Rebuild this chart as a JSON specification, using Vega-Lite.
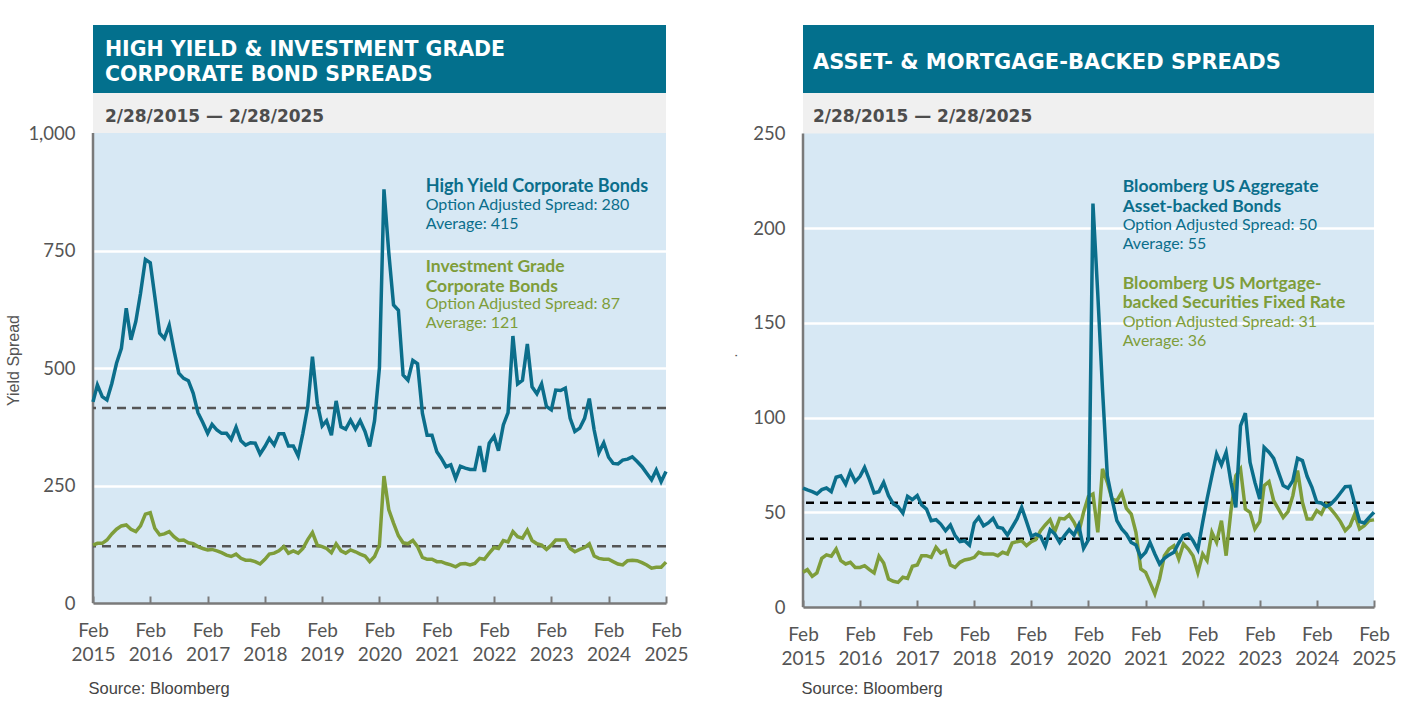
{
  "$schema": "https://vega.github.io/schema/vega-lite/v6.json",
  "padding": {"left": 5, "top": 25, "right": 5, "bottom": 5},
  "bounds": "flush",
  "spacing": 137,
  "config": {
    "view": {"fill": "#D7E8F4", "stroke": null},
    "axis": {"labelFont": "Lato", "labelFontSize": 18.5, "labelColor": "#555555", "titleFont": "Liberation Sans", "titleFontWeight": "normal", "titleColor": "#555555"}
  },
  "datasets": {
    "corp": [
      {"date":"2015-02","hy":428,"ig":123},{"date":"2015-03","hy":464,"ig":127},{"date":"2015-04","hy":439,"ig":127},{"date":"2015-05","hy":432,"ig":134},{"date":"2015-06","hy":467,"ig":147},{"date":"2015-07","hy":510,"ig":157},{"date":"2015-08","hy":542,"ig":164},{"date":"2015-09","hy":627,"ig":166},{"date":"2015-10","hy":560,"ig":157},{"date":"2015-11","hy":599,"ig":152},{"date":"2015-12","hy":659,"ig":164},
      {"date":"2016-01","hy":731,"ig":189},{"date":"2016-02","hy":724,"ig":192},{"date":"2016-03","hy":652,"ig":159},{"date":"2016-04","hy":574,"ig":145},{"date":"2016-05","hy":563,"ig":147},{"date":"2016-06","hy":591,"ig":152},{"date":"2016-07","hy":538,"ig":141},{"date":"2016-08","hy":489,"ig":133},{"date":"2016-09","hy":478,"ig":134},{"date":"2016-10","hy":473,"ig":128},{"date":"2016-11","hy":446,"ig":126},{"date":"2016-12","hy":405,"ig":120},
      {"date":"2017-01","hy":384,"ig":116},{"date":"2017-02","hy":361,"ig":113},{"date":"2017-03","hy":380,"ig":114},{"date":"2017-04","hy":368,"ig":111},{"date":"2017-05","hy":361,"ig":107},{"date":"2017-06","hy":361,"ig":102},{"date":"2017-07","hy":348,"ig":99},{"date":"2017-08","hy":374,"ig":104},{"date":"2017-09","hy":345,"ig":95},{"date":"2017-10","hy":336,"ig":91},{"date":"2017-11","hy":341,"ig":91},{"date":"2017-12","hy":340,"ig":88},
      {"date":"2018-01","hy":317,"ig":83},{"date":"2018-02","hy":333,"ig":93},{"date":"2018-03","hy":350,"ig":104},{"date":"2018-04","hy":336,"ig":106},{"date":"2018-05","hy":360,"ig":111},{"date":"2018-06","hy":360,"ig":120},{"date":"2018-07","hy":334,"ig":106},{"date":"2018-08","hy":334,"ig":111},{"date":"2018-09","hy":313,"ig":106},{"date":"2018-10","hy":361,"ig":116},{"date":"2018-11","hy":418,"ig":135},{"date":"2018-12","hy":524,"ig":150},
      {"date":"2019-01","hy":425,"ig":123},{"date":"2019-02","hy":377,"ig":120},{"date":"2019-03","hy":388,"ig":116},{"date":"2019-04","hy":357,"ig":107},{"date":"2019-05","hy":430,"ig":126},{"date":"2019-06","hy":375,"ig":111},{"date":"2019-07","hy":370,"ig":106},{"date":"2019-08","hy":389,"ig":113},{"date":"2019-09","hy":370,"ig":109},{"date":"2019-10","hy":388,"ig":104},{"date":"2019-11","hy":365,"ig":100},{"date":"2019-12","hy":333,"ig":88},
      {"date":"2020-01","hy":388,"ig":99},{"date":"2020-02","hy":500,"ig":123},{"date":"2020-03","hy":880,"ig":270},{"date":"2020-04","hy":744,"ig":198},{"date":"2020-05","hy":634,"ig":170},{"date":"2020-06","hy":623,"ig":143},{"date":"2020-07","hy":485,"ig":128},{"date":"2020-08","hy":474,"ig":126},{"date":"2020-09","hy":516,"ig":133},{"date":"2020-10","hy":509,"ig":120},{"date":"2020-11","hy":404,"ig":97},{"date":"2020-12","hy":357,"ig":93},
      {"date":"2021-01","hy":357,"ig":93},{"date":"2021-02","hy":322,"ig":88},{"date":"2021-03","hy":308,"ig":88},{"date":"2021-04","hy":290,"ig":84},{"date":"2021-05","hy":294,"ig":81},{"date":"2021-06","hy":265,"ig":77},{"date":"2021-07","hy":291,"ig":83},{"date":"2021-08","hy":287,"ig":84},{"date":"2021-09","hy":284,"ig":81},{"date":"2021-10","hy":284,"ig":84},{"date":"2021-11","hy":334,"ig":95},{"date":"2021-12","hy":279,"ig":93},
      {"date":"2022-01","hy":340,"ig":106},{"date":"2022-02","hy":355,"ig":118},{"date":"2022-03","hy":324,"ig":116},{"date":"2022-04","hy":379,"ig":133},{"date":"2022-05","hy":405,"ig":130},{"date":"2022-06","hy":568,"ig":152},{"date":"2022-07","hy":466,"ig":141},{"date":"2022-08","hy":474,"ig":138},{"date":"2022-09","hy":551,"ig":155},{"date":"2022-10","hy":460,"ig":133},{"date":"2022-11","hy":445,"ig":126},{"date":"2022-12","hy":466,"ig":123},
      {"date":"2023-01","hy":418,"ig":114},{"date":"2023-02","hy":411,"ig":123},{"date":"2023-03","hy":453,"ig":134},{"date":"2023-04","hy":452,"ig":134},{"date":"2023-05","hy":457,"ig":134},{"date":"2023-06","hy":393,"ig":116},{"date":"2023-07","hy":365,"ig":109},{"date":"2023-08","hy":372,"ig":114},{"date":"2023-09","hy":393,"ig":118},{"date":"2023-10","hy":435,"ig":126},{"date":"2023-11","hy":368,"ig":100},{"date":"2023-12","hy":320,"ig":95},
      {"date":"2024-01","hy":341,"ig":93},{"date":"2024-02","hy":310,"ig":93},{"date":"2024-03","hy":297,"ig":88},{"date":"2024-04","hy":296,"ig":83},{"date":"2024-05","hy":304,"ig":81},{"date":"2024-06","hy":306,"ig":90},{"date":"2024-07","hy":311,"ig":91},{"date":"2024-08","hy":301,"ig":90},{"date":"2024-09","hy":290,"ig":86},{"date":"2024-10","hy":276,"ig":81},{"date":"2024-11","hy":262,"ig":74},{"date":"2024-12","hy":283,"ig":76},
      {"date":"2025-01","hy":258,"ig":76},{"date":"2025-02","hy":280,"ig":87}
    ],
    "sec": [
      {"date":"2015-02","abs":62.8,"mbs":18.3},{"date":"2015-03","abs":61.8,"mbs":19.7},{"date":"2015-04","abs":60.9,"mbs":16.2},{"date":"2015-05","abs":59.7,"mbs":18.0},{"date":"2015-06","abs":62.0,"mbs":25.7},{"date":"2015-07","abs":62.8,"mbs":27.5},{"date":"2015-08","abs":60.9,"mbs":26.8},{"date":"2015-09","abs":68.5,"mbs":30.6},{"date":"2015-10","abs":69.3,"mbs":24.5},{"date":"2015-11","abs":64.9,"mbs":22.7},{"date":"2015-12","abs":71.5,"mbs":23.6},
      {"date":"2016-01","abs":66.2,"mbs":20.9},{"date":"2016-02","abs":69.0,"mbs":20.9},{"date":"2016-03","abs":73.7,"mbs":21.8},{"date":"2016-04","abs":67.2,"mbs":19.7},{"date":"2016-05","abs":60.2,"mbs":18.0},{"date":"2016-06","abs":60.9,"mbs":26.8},{"date":"2016-07","abs":65.8,"mbs":23.2},{"date":"2016-08","abs":58.8,"mbs":14.8},{"date":"2016-09","abs":54.4,"mbs":13.6},{"date":"2016-10","abs":53.0,"mbs":13.0},{"date":"2016-11","abs":49.6,"mbs":15.7},{"date":"2016-12","abs":58.4,"mbs":15.1},
      {"date":"2017-01","abs":56.7,"mbs":21.5},{"date":"2017-02","abs":58.8,"mbs":22.2},{"date":"2017-03","abs":53.9,"mbs":27.1},{"date":"2017-04","abs":51.7,"mbs":27.1},{"date":"2017-05","abs":45.6,"mbs":26.2},{"date":"2017-06","abs":46.1,"mbs":31.5},{"date":"2017-07","abs":43.8,"mbs":28.5},{"date":"2017-08","abs":40.3,"mbs":29.7},{"date":"2017-09","abs":43.3,"mbs":22.2},{"date":"2017-10","abs":37.7,"mbs":20.9},{"date":"2017-11","abs":34.5,"mbs":23.6},{"date":"2017-12","abs":35.0,"mbs":24.8},
      {"date":"2018-01","abs":32.7,"mbs":25.3},{"date":"2018-02","abs":44.4,"mbs":26.2},{"date":"2018-03","abs":47.3,"mbs":28.9},{"date":"2018-04","abs":42.9,"mbs":28.0},{"date":"2018-05","abs":44.4,"mbs":28.0},{"date":"2018-06","abs":46.8,"mbs":28.0},{"date":"2018-07","abs":42.1,"mbs":27.1},{"date":"2018-08","abs":41.5,"mbs":28.9},{"date":"2018-09","abs":38.0,"mbs":28.0},{"date":"2018-10","abs":42.1,"mbs":33.8},{"date":"2018-11","abs":46.5,"mbs":34.5},{"date":"2018-12","abs":52.6,"mbs":35.0},
      {"date":"2019-01","abs":45.1,"mbs":32.4},{"date":"2019-02","abs":37.3,"mbs":34.5},{"date":"2019-03","abs":38.5,"mbs":35.6},{"date":"2019-04","abs":37.3,"mbs":40.3},{"date":"2019-05","abs":32.0,"mbs":43.3},{"date":"2019-06","abs":40.8,"mbs":46.1},{"date":"2019-07","abs":38.5,"mbs":39.8},{"date":"2019-08","abs":34.1,"mbs":46.8},{"date":"2019-09","abs":37.7,"mbs":46.5},{"date":"2019-10","abs":40.8,"mbs":48.6},{"date":"2019-11","abs":38.0,"mbs":44.7},{"date":"2019-12","abs":43.3,"mbs":39.4},
      {"date":"2020-01","abs":31.0,"mbs":50.0},{"date":"2020-02","abs":35.5,"mbs":58.4},{"date":"2020-03","abs":213,"mbs":59.7},{"date":"2020-04","abs":165,"mbs":39.4},{"date":"2020-05","abs":115,"mbs":72.9},{"date":"2020-06","abs":69.3,"mbs":65.8},{"date":"2020-07","abs":57.0,"mbs":57.0},{"date":"2020-08","abs":45.6,"mbs":56.1},{"date":"2020-09","abs":41.2,"mbs":60.5},{"date":"2020-10","abs":38.5,"mbs":52.1},{"date":"2020-11","abs":34.1,"mbs":49.1},{"date":"2020-12","abs":32.7,"mbs":39.4},
      {"date":"2021-01","abs":26.2,"mbs":20.1},{"date":"2021-02","abs":28.9,"mbs":18.3},{"date":"2021-03","abs":34.1,"mbs":13.0},{"date":"2021-04","abs":28.0,"mbs":6.9},{"date":"2021-05","abs":22.7,"mbs":14.8},{"date":"2021-06","abs":25.7,"mbs":27.1},{"date":"2021-07","abs":27.5,"mbs":30.6},{"date":"2021-08","abs":28.9,"mbs":32.4},{"date":"2021-09","abs":33.8,"mbs":25.3},{"date":"2021-10","abs":37.7,"mbs":33.3},{"date":"2021-11","abs":38.5,"mbs":30.6},{"date":"2021-12","abs":35.0,"mbs":27.1},
      {"date":"2022-01","abs":30.3,"mbs":18.3},{"date":"2022-02","abs":44.7,"mbs":28.0},{"date":"2022-03","abs":57.0,"mbs":24.5},{"date":"2022-04","abs":69.3,"mbs":39.4},{"date":"2022-05","abs":80.8,"mbs":34.1},{"date":"2022-06","abs":75.0,"mbs":45.6},{"date":"2022-07","abs":81.7,"mbs":27.1},{"date":"2022-08","abs":65.8,"mbs":50.9},{"date":"2022-09","abs":52.6,"mbs":69.3},{"date":"2022-10","abs":95.7,"mbs":72.9},{"date":"2022-11","abs":102.4,"mbs":51.7},{"date":"2022-12","abs":76.4,"mbs":50.0},
      {"date":"2023-01","abs":65.8,"mbs":41.2},{"date":"2023-02","abs":57.0,"mbs":45.1},{"date":"2023-03","abs":84.3,"mbs":64.1},{"date":"2023-04","abs":81.7,"mbs":66.2},{"date":"2023-05","abs":78.5,"mbs":56.1},{"date":"2023-06","abs":71.1,"mbs":51.7},{"date":"2023-07","abs":64.1,"mbs":47.3},{"date":"2023-08","abs":62.7,"mbs":50.3},{"date":"2023-09","abs":66.7,"mbs":58.8},{"date":"2023-10","abs":78.5,"mbs":72.0},{"date":"2023-11","abs":77.3,"mbs":55.3},{"date":"2023-12","abs":69.0,"mbs":46.5},
      {"date":"2024-01","abs":63.2,"mbs":46.5},{"date":"2024-02","abs":55.3,"mbs":50.9},{"date":"2024-03","abs":54.9,"mbs":49.1},{"date":"2024-04","abs":53.1,"mbs":54.4},{"date":"2024-05","abs":54.4,"mbs":51.7},{"date":"2024-06","abs":57.0,"mbs":48.6},{"date":"2024-07","abs":60.2,"mbs":45.1},{"date":"2024-08","abs":63.5,"mbs":40.3},{"date":"2024-09","abs":63.7,"mbs":42.9},{"date":"2024-10","abs":54.4,"mbs":49.1},{"date":"2024-11","abs":45.1,"mbs":41.2},{"date":"2024-12","abs":44.4,"mbs":42.9},
      {"date":"2025-01","abs":47.3,"mbs":45.6},{"date":"2025-02","abs":50.0,"mbs":46.0}
    ]
  },
  "hconcat": [
    {
      "width": 573,
      "height": 578,
      "data": {"name": "corp"},
      "layer": [
        {
          "data": {"values": [{}]},
          "mark": {"type": "rect", "color": "#03708D"},
          "encoding": {
            "x": {"datum": {"year": 2015, "month": 2, "date": 1, "utc": true}, "type": "temporal"},
            "x2": {"datum": {"year": 2025, "month": 2, "date": 1, "utc": true}},
            "y": {"datum": 1085.1, "type": "quantitative"},
            "y2": {"datum": 1229.8}
          }
        },
        {
          "data": {"values": [{}]},
          "mark": {"type": "rect", "color": "#F0F0F0"},
          "encoding": {
            "x": {"datum": {"year": 2015, "month": 2, "date": 1, "utc": true}, "type": "temporal"},
            "x2": {"datum": {"year": 2025, "month": 2, "date": 1, "utc": true}},
            "y": {"datum": 1000, "type": "quantitative"},
            "y2": {"datum": 1085.1}
          }
        },
        {
          "data": {"values": [{}]},
          "mark": {"type": "rule", "color": "#7A7A7A", "strokeWidth": 2.5},
          "encoding": {
            "x": {"datum": {"year": 2015, "month": 2, "date": 1, "utc": true}, "type": "temporal"},
            "y": {"datum": 0, "type": "quantitative"},
            "y2": {"datum": 1000}
          }
        },
        {
          "data": {"values": [{}]},
          "mark": {"type": "rule", "color": "#555555", "strokeWidth": 2.5, "strokeDash": [9, 6]},
          "encoding": {"y": {"datum": 415, "type": "quantitative"}}
        },
        {
          "data": {"values": [{}]},
          "mark": {"type": "rule", "color": "#555555", "strokeWidth": 2.5, "strokeDash": [9, 6]},
          "encoding": {"y": {"datum": 121, "type": "quantitative"}}
        },
        {
          "mark": {"type": "line", "color": "#7E9D3A", "strokeWidth": 3.5},
          "encoding": {
            "x": {"field": "date", "type": "temporal"},
            "y": {"field": "ig", "type": "quantitative"}
          }
        },
        {
          "mark": {"type": "line", "color": "#0B6E8B", "strokeWidth": 3.5},
          "encoding": {
            "x": {
              "field": "date", "type": "temporal",
              "scale": {"type": "utc", "domain": [{"year": 2015, "month": 2, "date": 1, "utc": true}, {"year": 2025, "month": 2, "date": 1, "utc": true}]},
              "axis": {
                "values": [
                  {"year": 2015, "month": 2, "date": 1, "utc": true}, {"year": 2016, "month": 2, "date": 1, "utc": true}, {"year": 2017, "month": 2, "date": 1, "utc": true}, {"year": 2018, "month": 2, "date": 1, "utc": true}, {"year": 2019, "month": 2, "date": 1, "utc": true}, {"year": 2020, "month": 2, "date": 1, "utc": true}, {"year": 2021, "month": 2, "date": 1, "utc": true}, {"year": 2022, "month": 2, "date": 1, "utc": true}, {"year": 2023, "month": 2, "date": 1, "utc": true}, {"year": 2024, "month": 2, "date": 1, "utc": true}, {"year": 2025, "month": 2, "date": 1, "utc": true}
                ],
                "labelExpr": "['Feb', utcFormat(datum.value, '%Y')]",
                "labelFontSize": 19,
                "labelLineHeight": 24,
                "labelPadding": 25,
                "labelFlush": false,
                "labelOverlap": false,
                "labelBaseline": "top",
                "tickSize": -7,
                "tickWidth": 2,
                "tickColor": "#7A7A7A",
                "domainColor": "#7A7A7A",
                "domainWidth": 2.5,
                "grid": false,
                "title": "Source: Bloomberg",
                "titleX": -5,
                "titleY": 85,
                "titleAlign": "left",
                "titleBaseline": "middle",
                "titleFontSize": 16.5,
                "titleColor": "#444444"
              }
            },
            "y": {
              "field": "hy", "type": "quantitative",
              "scale": {"domain": [0, 1229.8], "nice": false, "zero": false},
              "axis": {
                "values": [0, 250, 500, 750, 1000],
                "title": "Yield Spread",
                "titleX": -80,
                "titleY": 335,
                "titleAngle": -90,
                "titleAlign": "center",
                "titleBaseline": "middle",
                "titleFontSize": 16,
                "domain": false,
                "ticks": false,
                "labelPadding": 18,
                "grid": true,
                "gridColor": {"condition": {"test": "datum.value == 0 || datum.value == 1000", "value": "transparent"}, "value": "#FFFFFF"},
                "gridWidth": 2.5
              }
            }
          }
        },
        {
          "data": {"values": [{}]},
          "mark": {"type": "text", "text": ["HIGH YIELD & INVESTMENT GRADE", "CORPORATE BOND SPREADS"], "align": "left", "baseline": "top", "lineHeight": 25, "font": "DejaVu Sans", "fontSize": 20.5, "fontWeight": "bold", "color": "#FFFFFF"},
          "encoding": {
            "x": {"datum": {"year": 2015, "month": 4, "date": 18, "utc": true}, "type": "temporal"},
            "y": {"datum": 1197.2, "type": "quantitative"}
          }
        },
        {
          "data": {"values": [{}]},
          "mark": {"type": "text", "text": "2/28/2015 — 2/28/2025", "align": "left", "baseline": "top", "font": "DejaVu Sans", "fontSize": 17, "fontWeight": "bold", "color": "#4D4D4D"},
          "encoding": {
            "x": {"datum": {"year": 2015, "month": 4, "date": 18, "utc": true}, "type": "temporal"},
            "y": {"datum": 1051, "type": "quantitative"}
          }
        },
        {
          "data": {"values": [{}]},
          "mark": {"type": "text", "text": "High Yield Corporate Bonds", "align": "left", "baseline": "top", "font": "Lato", "fontSize": 18, "fontWeight": "bold", "color": "#0B6E8B"},
          "encoding": {
            "x": {"datum": {"year": 2020, "month": 11, "date": 22, "utc": true}, "type": "temporal"},
            "y": {"datum": 905, "type": "quantitative"}
          }
        },
        {
          "data": {"values": [{}]},
          "mark": {"type": "text", "text": ["Option Adjusted Spread: 280", "Average: 415"], "align": "left", "baseline": "top", "lineHeight": 19.4, "font": "Lato", "fontSize": 16, "color": "#0B6E8B"},
          "encoding": {
            "x": {"datum": {"year": 2020, "month": 11, "date": 22, "utc": true}, "type": "temporal"},
            "y": {"datum": 864.5, "type": "quantitative"}
          }
        },
        {
          "data": {"values": [{}]},
          "mark": {"type": "text", "text": ["Investment Grade", "Corporate Bonds"], "align": "left", "baseline": "top", "lineHeight": 19.5, "font": "Lato", "fontSize": 17.5, "fontWeight": "bold", "color": "#7E9D3A"},
          "encoding": {
            "x": {"datum": {"year": 2020, "month": 11, "date": 22, "utc": true}, "type": "temporal"},
            "y": {"datum": 734, "type": "quantitative"}
          }
        },
        {
          "data": {"values": [{}]},
          "mark": {"type": "text", "text": ["Option Adjusted Spread: 87", "Average: 121"], "align": "left", "baseline": "top", "lineHeight": 19, "font": "Lato", "fontSize": 16, "color": "#7E9D3A"},
          "encoding": {
            "x": {"datum": {"year": 2020, "month": 11, "date": 22, "utc": true}, "type": "temporal"},
            "y": {"datum": 653.6, "type": "quantitative"}
          }
        }
      ]
    },
    {
      "width": 571,
      "height": 582,
      "data": {"name": "sec"},
      "layer": [
        {
          "data": {"values": [{}]},
          "mark": {"type": "rect", "color": "#03708D"},
          "encoding": {
            "x": {"datum": {"year": 2015, "month": 2, "date": 1, "utc": true}, "type": "temporal"},
            "x2": {"datum": {"year": 2025, "month": 2, "date": 1, "utc": true}},
            "y": {"datum": 271.4, "type": "quantitative"},
            "y2": {"datum": 307.3}
          }
        },
        {
          "data": {"values": [{}]},
          "mark": {"type": "rect", "color": "#F0F0F0"},
          "encoding": {
            "x": {"datum": {"year": 2015, "month": 2, "date": 1, "utc": true}, "type": "temporal"},
            "x2": {"datum": {"year": 2025, "month": 2, "date": 1, "utc": true}},
            "y": {"datum": 250, "type": "quantitative"},
            "y2": {"datum": 271.4}
          }
        },
        {
          "data": {"values": [{}]},
          "mark": {"type": "rule", "color": "#7A7A7A", "strokeWidth": 2.5},
          "encoding": {
            "x": {"datum": {"year": 2015, "month": 2, "date": 1, "utc": true}, "type": "temporal"},
            "y": {"datum": 0, "type": "quantitative"},
            "y2": {"datum": 250}
          }
        },
        {
          "data": {"values": [{}]},
          "mark": {"type": "rule", "color": "#000000", "strokeWidth": 2.5, "strokeDash": [8, 6]},
          "encoding": {"y": {"datum": 55, "type": "quantitative"}}
        },
        {
          "data": {"values": [{}]},
          "mark": {"type": "rule", "color": "#000000", "strokeWidth": 2.5, "strokeDash": [8, 6]},
          "encoding": {"y": {"datum": 36, "type": "quantitative"}}
        },
        {
          "mark": {"type": "line", "color": "#7E9D3A", "strokeWidth": 3.5},
          "encoding": {
            "x": {"field": "date", "type": "temporal"},
            "y": {"field": "mbs", "type": "quantitative"}
          }
        },
        {
          "mark": {"type": "line", "color": "#0B6E8B", "strokeWidth": 3.5},
          "encoding": {
            "x": {
              "field": "date", "type": "temporal",
              "scale": {"type": "utc", "domain": [{"year": 2015, "month": 2, "date": 1, "utc": true}, {"year": 2025, "month": 2, "date": 1, "utc": true}]},
              "axis": {
                "values": [
                  {"year": 2015, "month": 2, "date": 1, "utc": true}, {"year": 2016, "month": 2, "date": 1, "utc": true}, {"year": 2017, "month": 2, "date": 1, "utc": true}, {"year": 2018, "month": 2, "date": 1, "utc": true}, {"year": 2019, "month": 2, "date": 1, "utc": true}, {"year": 2020, "month": 2, "date": 1, "utc": true}, {"year": 2021, "month": 2, "date": 1, "utc": true}, {"year": 2022, "month": 2, "date": 1, "utc": true}, {"year": 2023, "month": 2, "date": 1, "utc": true}, {"year": 2024, "month": 2, "date": 1, "utc": true}, {"year": 2025, "month": 2, "date": 1, "utc": true}
                ],
                "labelExpr": "['Feb', utcFormat(datum.value, '%Y')]",
                "labelFontSize": 19,
                "labelLineHeight": 24.5,
                "labelPadding": 25,
                "labelFlush": false,
                "labelOverlap": false,
                "labelBaseline": "top",
                "tickSize": -7,
                "tickWidth": 2,
                "tickColor": "#7A7A7A",
                "domainColor": "#7A7A7A",
                "domainWidth": 2.5,
                "grid": false,
                "title": "Source: Bloomberg",
                "titleX": -2,
                "titleY": 81,
                "titleAlign": "left",
                "titleBaseline": "middle",
                "titleFontSize": 16.5,
                "titleColor": "#444444"
              }
            },
            "y": {
              "field": "abs", "type": "quantitative",
              "scale": {"domain": [0, 307.3], "nice": false, "zero": false},
              "axis": {
                "values": [0, 50, 100, 150, 200, 250],
                "title": ".",
                "titleX": -71,
                "titleY": 330,
                "titleAngle": -90,
                "titleAlign": "center",
                "titleBaseline": "middle",
                "titleFontSize": 14,
                "domain": false,
                "ticks": false,
                "labelPadding": 18,
                "grid": true,
                "gridColor": {"condition": {"test": "datum.value == 0 || datum.value == 250", "value": "transparent"}, "value": "#FFFFFF"},
                "gridWidth": 2.5
              }
            }
          }
        },
        {
          "data": {"values": [{}]},
          "mark": {"type": "text", "text": "ASSET- & MORTGAGE-BACKED SPREADS", "align": "left", "baseline": "top", "font": "DejaVu Sans", "fontSize": 21, "fontWeight": "bold", "color": "#FFFFFF"},
          "encoding": {
            "x": {"datum": {"year": 2015, "month": 4, "date": 6, "utc": true}, "type": "temporal"},
            "y": {"datum": 293.0, "type": "quantitative"}
          }
        },
        {
          "data": {"values": [{}]},
          "mark": {"type": "text", "text": "2/28/2015 — 2/28/2025", "align": "left", "baseline": "top", "font": "DejaVu Sans", "fontSize": 17, "fontWeight": "bold", "color": "#4D4D4D"},
          "encoding": {
            "x": {"datum": {"year": 2015, "month": 4, "date": 6, "utc": true}, "type": "temporal"},
            "y": {"datum": 263.0, "type": "quantitative"}
          }
        },
        {
          "data": {"values": [{}]},
          "mark": {"type": "text", "text": ["Bloomberg US Aggregate", "Asset-backed Bonds"], "align": "left", "baseline": "top", "lineHeight": 19.5, "font": "Lato", "fontSize": 17.5, "fontWeight": "bold", "color": "#0B6E8B"},
          "encoding": {
            "x": {"datum": {"year": 2020, "month": 9, "date": 7, "utc": true}, "type": "temporal"},
            "y": {"datum": 226.4, "type": "quantitative"}
          }
        },
        {
          "data": {"values": [{}]},
          "mark": {"type": "text", "text": ["Option Adjusted Spread: 50", "Average: 55"], "align": "left", "baseline": "top", "lineHeight": 19, "font": "Lato", "fontSize": 16, "color": "#0B6E8B"},
          "encoding": {
            "x": {"datum": {"year": 2020, "month": 9, "date": 7, "utc": true}, "type": "temporal"},
            "y": {"datum": 206.0, "type": "quantitative"}
          }
        },
        {
          "data": {"values": [{}]},
          "mark": {"type": "text", "text": ["Bloomberg US Mortgage-", "backed Securities Fixed Rate"], "align": "left", "baseline": "top", "lineHeight": 19.5, "font": "Lato", "fontSize": 17.5, "fontWeight": "bold", "color": "#7E9D3A"},
          "encoding": {
            "x": {"datum": {"year": 2020, "month": 9, "date": 7, "utc": true}, "type": "temporal"},
            "y": {"datum": 175.3, "type": "quantitative"}
          }
        },
        {
          "data": {"values": [{}]},
          "mark": {"type": "text", "text": ["Option Adjusted Spread: 31", "Average: 36"], "align": "left", "baseline": "top", "lineHeight": 19, "font": "Lato", "fontSize": 16, "color": "#7E9D3A"},
          "encoding": {
            "x": {"datum": {"year": 2020, "month": 9, "date": 7, "utc": true}, "type": "temporal"},
            "y": {"datum": 154.9, "type": "quantitative"}
          }
        }
      ]
    }
  ]
}
